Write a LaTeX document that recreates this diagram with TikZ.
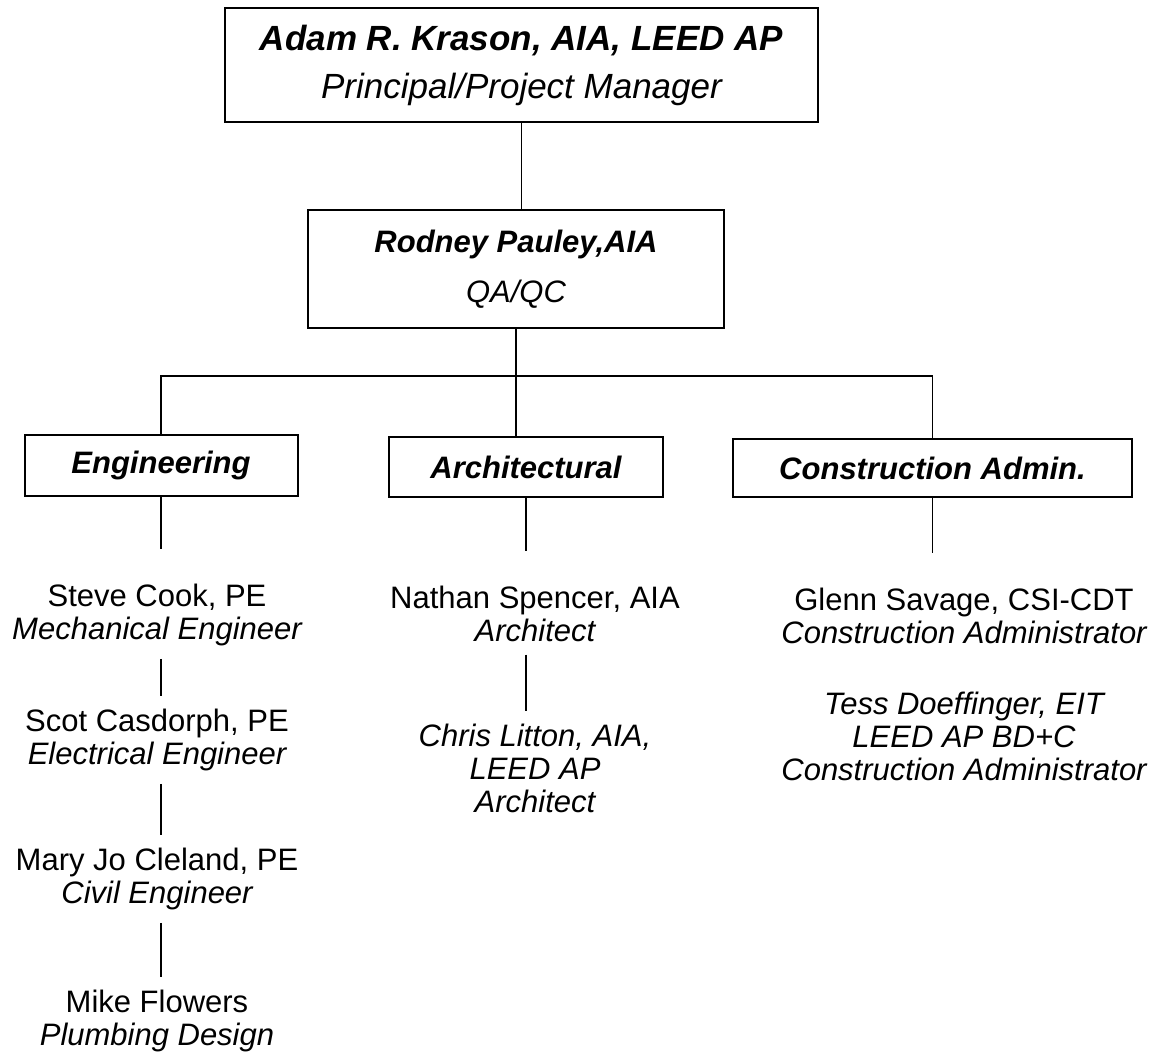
\documentclass[tikz,border=0pt]{standalone}
\usepackage{fontspec}
\setmainfont{Liberation Sans}

\begin{document}
\begin{tikzpicture}[x=0.5pt, y=-0.5pt, line width=0.8pt]
    \tikzstyle{BoxStyle}=[draw,line width=1pt,align=center,inner sep=0pt]
    \tikzstyle{PersonStyle}=[align=center,inner sep=6pt,font=\fontsize{15.5}{16.5}\selectfont]
    \tikzstyle{DropStyle}=[shorten >=11pt]
    \useasboundingbox (0,0) rectangle (1157,1055);
    % boxes
    \node[BoxStyle,minimum width=296.5pt,minimum height=57pt,
          font=\fontsize{17.5}{24}\selectfont] (pm) at (521.5,65)
         {{\bfseries\itshape Adam R. Krason, AIA, LEED AP}\\\itshape Principal/Project Manager};
    \node[BoxStyle,minimum width=208pt,minimum height=59pt,
          font=\fontsize{15.5}{25}\selectfont] (qa) at (516,269)
         {{\bfseries\itshape Rodney Pauley,AIA}\\\itshape QA/QC};
    \node[BoxStyle,minimum width=136.5pt,minimum height=30.5pt,
          font=\fontsize{15.5}{17}\selectfont\bfseries\itshape] (eng) at (161,465.5) {Engineering};
    \node[BoxStyle,minimum width=137pt,minimum height=30pt,
          font=\fontsize{15.5}{17}\selectfont\bfseries\itshape] (arch) at (526,467) {Architectural};
    \node[BoxStyle,minimum width=199.5pt,minimum height=29pt,
          font=\fontsize{15.5}{17}\selectfont\bfseries\itshape] (ca) at (932.5,468) {Construction Admin.};
    % people
    \node[PersonStyle] (steve) at (157,615) {Steve Cook, PE\\\itshape Mechanical Engineer};
    \node[PersonStyle] (scot) at (157,740) {Scot Casdorph, PE\\\itshape Electrical Engineer};
    \node[PersonStyle] (mary) at (157,879) {Mary Jo Cleland, PE\\\itshape Civil Engineer};
    \node[PersonStyle] (mike) at (157,1021) {Mike Flowers\\\itshape Plumbing Design};
    \node[PersonStyle] (nathan) at (535,614) {Nathan Spencer, AIA\\\itshape Architect};
    \node[PersonStyle,font=\fontsize{15.5}{16.5}\selectfont\itshape] (chris) at (535,768)
         {Chris Litton, AIA,\\LEED AP\\Architect};
    \node[PersonStyle] (glenn) at (964,616) {Glenn Savage, CSI-CDT\\\itshape Construction Administrator};
    \node[PersonStyle,font=\fontsize{15.5}{16.5}\selectfont\itshape] (tess) at (964,736)
         {Tess Doeffinger, EIT\\LEED AP BD+C\\Construction Administrator};
    % connectors
    \coordinate (bus) at (518,376);
    \draw (pm.south) -- (pm.south |- qa.north);
    \draw (qa.south) -- (qa.south |- arch.north);
    \draw (eng.north) |- (bus) -| (ca.north);
    \draw[DropStyle] (eng.south) -- (eng.south |- steve.north);
    \draw[DropStyle] (arch.south) -- (arch.south |- nathan.north);
    \draw[DropStyle] (ca.south) -- (ca.south |- glenn.north);
    \foreach \a/\b in {steve/scot,scot/mary,mary/mike}
        \draw (\a.south -| eng.south) -- (\b.north -| eng.south);
    \draw (nathan.south -| arch.south) -- (chris.north -| arch.south);
\end{tikzpicture}
\end{document}
